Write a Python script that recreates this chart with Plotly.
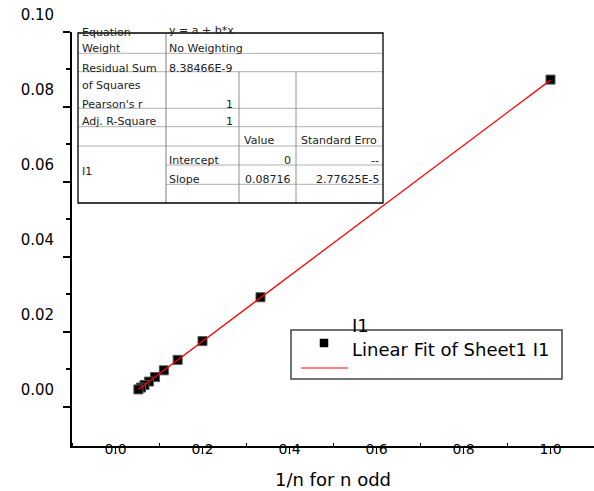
import plotly.graph_objects as go

# ---------------- data ----------------
x_vals = [1.0, 0.3333, 0.2, 0.1429, 0.1111, 0.0909, 0.0769, 0.0667, 0.0588, 0.0526]
y_vals = [0.0873, 0.0292, 0.0175, 0.0125, 0.0097, 0.0079, 0.0067, 0.0058, 0.0051, 0.0046]
fit_x = [0.0526, 1.0]
fit_y = [0.00459, 0.08716]

x_tick_vals = [0.0, 0.2, 0.4, 0.6, 0.8, 1.0]
x_tick_text = ["0.0", "0.2", "0.4", "0.6", "0.8", "1.0"]
x_minor_vals = [-0.1, 0.1, 0.3, 0.5, 0.7, 0.9]
y_tick_vals = [0.00, 0.02, 0.04, 0.06, 0.08, 0.10]
y_tick_text = ["0.00", "0.02", "0.04", "0.06", "0.08", "0.10"]
y_minor_vals = [0.01, 0.03, 0.05, 0.07, 0.09]

x_title = "1/n for n odd"

# fit report table text
tbl_col1 = ["Equation", "Weight", "Residual Sum", "of Squares", "Pearson's r", "Adj. R-Square", "I1"]
tbl_col2 = ["y = a + b*x", "No Weighting", "8.38466E-9", "Intercept", "Slope"]
tbl_col2_num = ["1", "1"]
tbl_col3 = ["Value", "0", "0.08716"]
tbl_col4 = ["Standard Erro", "--", "2.77625E-5"]

legend_title = "I1"
legend_label = "Linear Fit of Sheet1 I1"

# ---------------- layout helpers (pixel -> paper) ----------------
W, H = 594, 491
L, R, T, B = 72, 594, 32, 446


def px(x):
    return (x - L) / (R - L)


def py(y):
    return (B - y) / (B - T)


FONT = "DejaVu Sans"

fig = go.Figure()
fig.add_trace(go.Scatter(
    x=x_vals, y=y_vals, mode="markers",
    marker=dict(symbol="square", size=9, color="black", line=dict(color="#555", width=1)),
    showlegend=False, hoverinfo="skip"))
fig.add_trace(go.Scatter(
    x=fit_x, y=fit_y, mode="lines",
    line=dict(color="red", width=1.3),
    showlegend=False, hoverinfo="skip"))

shapes = []
annotations = []


def hline(x0, x1, y, color="#b0b0b0", w=1):
    shapes.append(dict(type="line", xref="paper", yref="paper", x0=px(x0), x1=px(x1), y0=py(y), y1=py(y),
                       line=dict(color=color, width=w)))


def vline(x, y0, y1, color="#909090", w=1):
    shapes.append(dict(type="line", xref="paper", yref="paper", x0=px(x), x1=px(x), y0=py(y0), y1=py(y1),
                       line=dict(color=color, width=w)))


def text(s, x, y, anchor="left", size=11, color="#222"):
    annotations.append(dict(text=s, xref="paper", yref="paper", x=px(x), y=py(y),
                            xanchor=anchor, yanchor="middle", showarrow=False,
                            font=dict(family=FONT, size=size, color=color),
                            borderpad=0, borderwidth=0))


# ---- table ----
tx0, tx1, ty0, ty1 = 78, 383, 33, 203
c1, c2, c3 = 166, 239, 296
for yy in [53.3, 71.7, 108.3, 126.7, 146]:
    hline(tx0, tx1, yy)
for yy in [165, 184.3]:
    hline(c1, tx1, yy)
vline(c1, ty0, ty1, color="#808080")
vline(c2, 71.7, ty1)
vline(c3, 71.7, ty1)
shapes.append(dict(type="rect", xref="paper", yref="paper", x0=px(tx0), x1=px(tx1), y0=py(ty0), y1=py(ty1),
                   line=dict(color="black", width=1.3)))

row_y1 = [32, 49, 68, 85, 104, 122, 172]
for s, yy in zip(tbl_col1, row_y1):
    text(s, 82, yy)
row_y2 = [31, 49, 68, 160, 179]
for s, yy in zip(tbl_col2, row_y2):
    text(s, 169, yy)
for s, yy in zip(tbl_col2_num, [104, 122]):
    text(s, 233, yy, anchor="right")
text(tbl_col3[0], 244, 141)
for s, yy in zip(tbl_col3[1:], [160, 179]):
    text(s, 291, yy, anchor="right")
text(tbl_col4[0], 301, 141)
for s, yy in zip(tbl_col4[1:], [160, 179]):
    text(s, 379, yy, anchor="right")

# ---- legend ----
shapes.append(dict(type="rect", xref="paper", yref="paper", x0=px(291), x1=px(562), y0=py(330), y1=py(379),
                   line=dict(color="#444", width=1.5), fillcolor="white", layer="above"))
shapes.append(dict(type="rect", xref="paper", yref="paper", x0=px(320), x1=px(328), y0=py(339), y1=py(347),
                   line=dict(color="black", width=0.5), fillcolor="black"))
shapes.append(dict(type="line", xref="paper", yref="paper", x0=px(301), x1=px(348), y0=py(368), y1=py(368),
                   line=dict(color="red", width=1)))
text(legend_title, 352, 325, size=18, color="black")
text(legend_label, 352, 349, size=18, color="black")

fig.update_layout(
    width=W, height=H,
    margin=dict(l=L, r=W - R, t=T, b=H - B, pad=0),
    paper_bgcolor="white", plot_bgcolor="white",
    font=dict(family=FONT, color="black"),
    shapes=shapes, annotations=annotations,
    showlegend=False,
    xaxis=dict(
        range=[-0.1, 1.1], showgrid=False, zeroline=False,
        showline=True, linecolor="black", linewidth=1.5,
        ticks="outside", ticklen=6, tickwidth=1, tickcolor="black",
        tickmode="array", tickvals=x_tick_vals, ticktext=x_tick_text,
        tickfont=dict(family=FONT, size=14, color="black"),
        ticklabelstandoff=-17,
        minor=dict(tickmode="array", tickvals=x_minor_vals, ticks="inside", ticklen=3,
                   tickwidth=1, tickcolor="black", showgrid=False),
        title=dict(text=x_title, font=dict(family=FONT, size=18, color="black"), standoff=18),
    ),
    yaxis=dict(
        range=[-0.0105, 0.10], showgrid=False, zeroline=False,
        showline=True, linecolor="black", linewidth=1.8,
        ticks="outside", ticklen=7, tickwidth=1.5, tickcolor="black",
        tickmode="array", tickvals=y_tick_vals, ticktext=y_tick_text,
        tickfont=dict(family=FONT, size=15, color="black"),
        ticklabelstandoff=6, ticklabelshift=-17,
        minor=dict(tickmode="array", tickvals=y_minor_vals, ticks="outside", ticklen=4,
                   tickwidth=1.5, tickcolor="black", showgrid=False),
    ),
)

fig.write_html("out.html")
